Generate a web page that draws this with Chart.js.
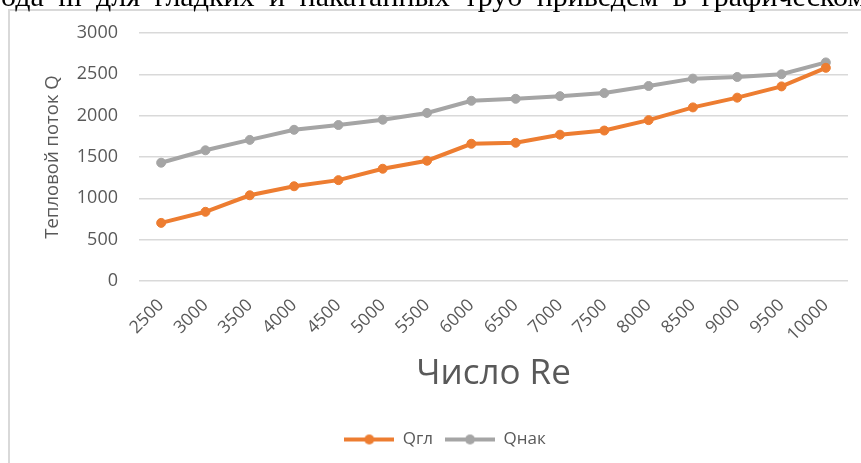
<!DOCTYPE html>
<html>
<head>
<meta charset="utf-8">
<script src="https://cdn.jsdelivr.net/npm/chart.js@4"></script>
<style>
  html, body { margin: 0; padding: 0; background: #fff; overflow: hidden; width: 861px; height: 463px; }
  #line-above {
    position: absolute; left: -44px; top: -21px; white-space: nowrap; word-spacing: 7px;
    font: 30px "Liberation Serif", "DejaVu Serif", serif; color: #000; z-index: 2;
  }
  #frame {
    position: absolute; left: 8px; top: 9px; width: 880px; height: 470px;
    border-left: 2px solid #d9d9d9; border-top: 2px solid #d9d9d9;
  }
  #heat-chart { position: absolute; left: 0; top: 0; }
</style>
</head>
<body>
<div id="line-above">метода m для гладких и накатанных труб приведем в графическом виде</div>
<div id="frame"><canvas id="heat-chart" width="870" height="452"></canvas></div>
<script>
const reynolds = ['2500','3000','3500','4000','4500','5000','5500','6000',
                  '6500','7000','7500','8000','8500','9000','9500','10000'];
const qSmooth = [703, 837, 1037, 1146, 1220, 1358, 1455, 1660,
                 1672, 1770, 1820, 1946, 2100, 2218, 2354, 2579];
const qRolled = [1431, 1581, 1707, 1829, 1887, 1951, 2033, 2180,
                 2204, 2236, 2273, 2359, 2448, 2468, 2501, 2644];

const orange = '#ED7D31';
const grey = '#A5A5A5';
const textGrey = '#595959';

// legend sample: short line with a dot in the middle
function legendMark(color) {
    const c = document.createElement('canvas');
    c.width = 50; c.height = 12;
    const g = c.getContext('2d');
    g.strokeStyle = color; g.lineWidth = 4;
    g.beginPath(); g.moveTo(0, 6); g.lineTo(50, 6); g.stroke();
    g.fillStyle = color;
    g.beginPath(); g.arc(25, 6, 5, 0, Math.PI * 2); g.fill();
    return c;
}
const marks = [legendMark(orange), legendMark(grey)];

const heatChart = document.querySelector('#heat-chart');

new Chart(heatChart, {
    type: 'line',
    data: {
        labels: reynolds,
        datasets: [{
            label: 'Qгл',
            data: qSmooth,
            borderColor: orange,
            backgroundColor: orange,
            borderWidth: 4,
            pointRadius: 4.5,
            pointBorderWidth: 1,
            pointHoverRadius: 4.5
        }, {
            label: 'Qнак',
            data: qRolled,
            borderColor: grey,
            backgroundColor: grey,
            borderWidth: 4,
            pointRadius: 4.5,
            pointBorderWidth: 1,
            pointHoverRadius: 4.5
        }]
    },
    options: {
        responsive: false,
        animation: false,
        layout: { padding: { top: 22, right: 32, bottom: 5, left: 32 } },
        scales: {
            x: {
                offset: true,
                grid: { display: false },
                border: { display: false },
                ticks: {
                    color: textGrey,
                    font: { family: 'Open Sans', size: 17.5 },
                    minRotation: 45,
                    maxRotation: 45,
                    padding: 6
                },
                title: {
                    display: true,
                    text: 'Число Re',
                    color: textGrey,
                    font: { family: 'Open Sans', size: 35 },
                    padding: { top: 0, bottom: 24 }
                },
                afterFit(scale) { scale.height = 138; }
            },
            y: {
                min: 0,
                max: 3000,
                ticks: {
                    stepSize: 500,
                    color: textGrey,
                    font: { family: 'Open Sans', size: 18 },
                    padding: 0,
                    callback: (v) => String(v)
                },
                // invisible tick marks keep the labels away from the plot
                grid: {
                    color: '#d9d9d9', lineWidth: 1.5,
                    drawTicks: true, tickLength: 21, tickColor: 'rgba(0,0,0,0)'
                },
                border: { display: false },
                title: {
                    display: true,
                    text: 'Тепловой поток Q',
                    color: textGrey,
                    font: { family: 'Open Sans', size: 18.5 },
                    padding: { top: 0, bottom: 0 }
                },
                afterFit(scale) { scale.width = 97; }
            }
        },
        plugins: {
            legend: {
                position: 'bottom',
                labels: {
                    usePointStyle: true,
                    pointStyleWidth: 50,
                    color: textGrey,
                    font: { family: 'Open Sans', size: 17 },
                    padding: 12,
                    generateLabels(chart) {
                        const items = Chart.defaults.plugins.legend.labels.generateLabels(chart);
                        items.forEach((it, i) => { it.pointStyle = marks[i]; });
                        return items;
                    }
                }
            },
            tooltip: { enabled: false }
        }
    }
});
</script>
</body>
</html>
